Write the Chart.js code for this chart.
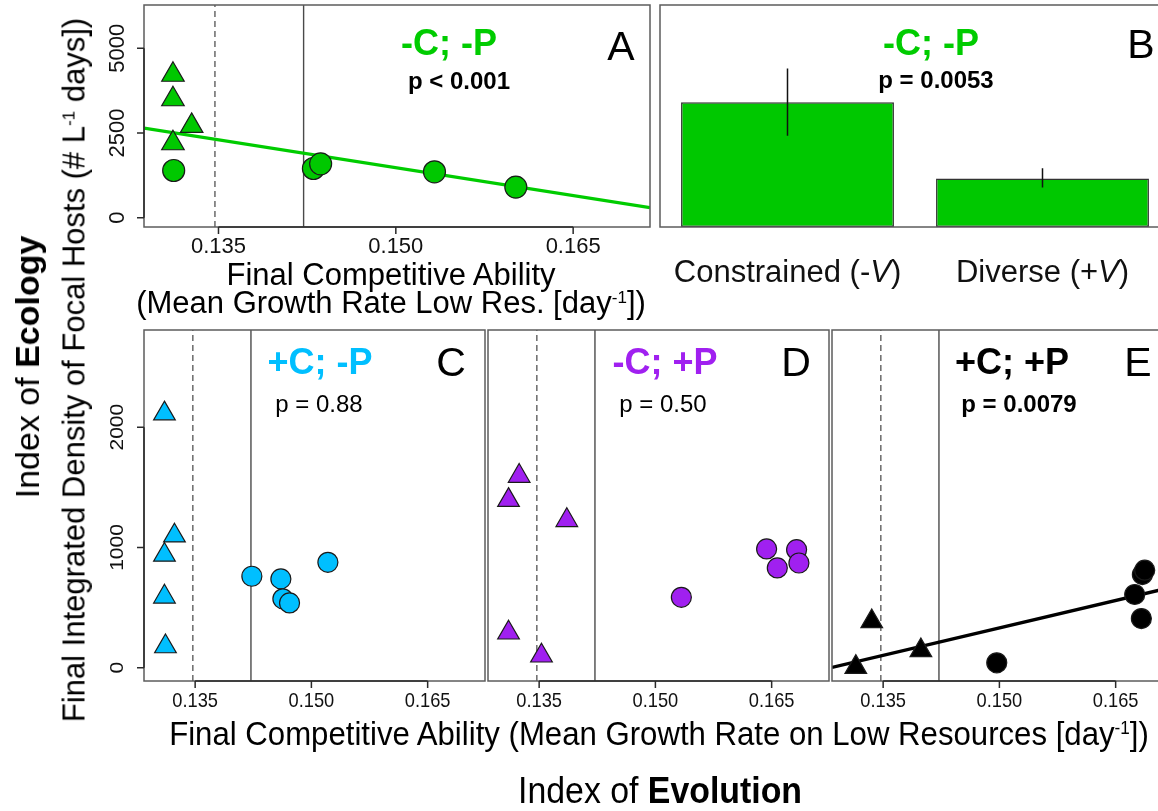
<!DOCTYPE html>
<html>
<head>
<meta charset="utf-8">
<script src="https://cdn.jsdelivr.net/npm/chart.js@4.4.1/dist/chart.umd.min.js"></script>
<style>
  html, body { margin: 0; padding: 0; background: #fff; overflow: hidden; width: 1158px; height: 811px; }
  #stage { position: relative; width: 1158px; height: 811px; overflow: hidden;
           font-family: "Liberation Sans", Arial, Helvetica, sans-serif; color: #000; }
  #stage canvas { position: absolute; left: 0; top: 0; }
  .t { position: absolute; white-space: nowrap; line-height: 1; transform: translate(-50%, -50%); }
  .b { font-weight: bold; }
  .rot { transform: translate(-50%, -50%) rotate(-90deg); }
  .sup { font-size: 0.55em; position: relative; top: -0.6em; }
</style>
</head>
<body>
<div id="stage">
  <canvas id="cA" width="1200" height="811"></canvas>
  <canvas id="cB" width="1200" height="811"></canvas>
  <canvas id="cC" width="1200" height="811"></canvas>
  <canvas id="cD" width="1200" height="811"></canvas>
  <canvas id="cE" width="1200" height="811"></canvas>

  <!-- panel annotations -->
  <div class="t b" style="left:449px;top:43px;font-size:36px;color:#00CC00">-C; -P</div>
  <div class="t b" style="left:459px;top:81px;font-size:24px">p &lt; 0.001</div>
  <div class="t" style="left:621px;top:46px;font-size:41px">A</div>

  <div class="t b" style="left:931px;top:43px;font-size:36px;color:#00CC00">-C; -P</div>
  <div class="t b" style="left:936px;top:80px;font-size:24px">p = 0.0053</div>
  <div class="t" style="left:1141px;top:44px;font-size:41px">B</div>

  <div class="t" style="left:391px;top:274px;font-size:31px">Final Competitive Ability</div>
  <div class="t" style="left:391px;top:302px;font-size:31px">(Mean Growth Rate Low Res. [day<span class="sup">-1</span>])</div>

  <div class="t b" style="left:320px;top:362px;font-size:36px;color:#00BFFF">+C; -P</div>
  <div class="t" style="left:319px;top:404px;font-size:24px">p = 0.88</div>
  <div class="t" style="left:451px;top:362px;font-size:41px">C</div>

  <div class="t b" style="left:665px;top:362px;font-size:36px;color:#A020F0">-C; +P</div>
  <div class="t" style="left:663px;top:404px;font-size:24px">p = 0.50</div>
  <div class="t" style="left:796px;top:362px;font-size:41px">D</div>

  <div class="t b" style="left:1012px;top:362px;font-size:36px;color:#000">+C; +P</div>
  <div class="t b" style="left:1019px;top:404px;font-size:24px">p = 0.0079</div>
  <div class="t" style="left:1138px;top:362px;font-size:41px">E</div>

  <!-- shared axis titles -->
  <div class="t" style="left:659px;top:733px;font-size:33px;transform:translate(-50%,-50%) scaleX(0.944)">Final Competitive Ability (Mean Growth Rate on Low Resources [day<span class="sup">-1</span>])</div>
  <div class="t" style="left:660px;top:791px;font-size:36px;transform:translate(-50%,-50%) scaleX(0.94)">Index of <b>Evolution</b></div>
  <div class="t rot" style="left:27px;top:367px;font-size:34px">Index of <b>Ecology</b></div>
  <div class="t rot" style="left:74px;top:370px;font-size:31px">Final Integrated Density of Focal Hosts (# L<span class="sup">-1</span> days])</div>
</div>

<script>
// ---------- data ----------
const xTicks = [0.135, 0.150, 0.165];
const yTicksTop = [0, 2500, 5000];
const yTicksLower = [0, 1000, 2000];

// ancestral reference values of competitive ability
const dashedRef = 0.1347;
const solidRef = 0.1422;

// A: -C; -P
const aTriX = [0.13115, 0.13115, 0.13273, 0.13115];
const aTriY = [4216, 3493, 2709, 2196];
const aCirX = [0.13121, 0.14303, 0.14364, 0.15327, 0.16015];
const aCirY = [1392, 1451, 1588, 1353, 902];
const aFitX = [0.1287, 0.1715];
const aFitY = [2644, 295];

// B: group means with error bars
const bCategories = ['Constrained (-V)', 'Diverse (+V)'];
const bMeans = [3372, 1314];
const bErrLow = [2465, 1070];
const bErrHigh = [4287, 1586];

// C: +C; -P
const cTriX = [0.13104, 0.13233, 0.13104, 0.13104, 0.13117];
const cTriY = [2113, 1098, 938, 590, 177];
const cCirX = [0.14232, 0.14606, 0.14632, 0.14718, 0.15213];
const cCirY = [761, 739, 573, 539, 877];

// D: -C; +P
const dTriX = [0.13242, 0.13105, 0.13857, 0.13105, 0.13530];
const dTriY = [1594, 1394, 1226, 291, 100];
const dCirX = [0.15335, 0.16435, 0.16573, 0.16822, 0.16852];
const dCirY = [586, 988, 830, 982, 871];

// E: +C; +P
const eTriX = [0.13147, 0.13353, 0.13987];
const eTriY = [5, 385, 144];
const eCirX = [0.14966, 0.16746, 0.16845, 0.16875, 0.16832];
const eCirY = [41, 609, 775, 811, 409];
const eFitX = [0.1284, 0.1724];
const eFitY = [3, 672];

// ---------- drawing ----------
const FONT = '"Liberation Sans", Arial, Helvetica, sans-serif';
const CW = 1200, CH = 811;

function drawRich(ctx, label, cx, cy, size) {
  const parts = label.split(/(V)(?=\))/).filter(Boolean).map(t => ({ t, it: t === 'V' }));
  let w = 0;
  parts.forEach(p => {
    ctx.font = (p.it ? 'italic ' : '') + size + 'px ' + FONT;
    p.w = ctx.measureText(p.t).width;
    w += p.w;
  });
  let x = cx - w / 2;
  ctx.textAlign = 'left';
  parts.forEach(p => {
    ctx.font = (p.it ? 'italic ' : '') + size + 'px ' + FONT;
    ctx.fillText(p.t, x, cy);
    x += p.w;
  });
  ctx.textAlign = 'center';
}

// box, axis segments, ticks and tick labels in the style of base R graphics
const rFrame = {
  id: 'rframe',
  afterDraw(chart, args, o) {
    const ctx = chart.ctx, a = chart.chartArea;
    ctx.save();
    ctx.setLineDash([]);
    ctx.strokeStyle = '#5c5c5c';
    ctx.lineWidth = 1.5;
    ctx.strokeRect(a.left, a.top, a.right - a.left, a.bottom - a.top);
    ctx.fillStyle = '#111';
    ctx.textAlign = 'center';
    ctx.textBaseline = 'middle';
    if (o.xTicks) {
      const s = chart.scales.x;
      const px = o.xTicks.map(v => s.getPixelForValue(v));
      ctx.strokeStyle = '#2a2a2a';
      ctx.lineWidth = 1.5;
      ctx.beginPath();
      ctx.moveTo(px[0], a.bottom);
      ctx.lineTo(px[px.length - 1], a.bottom);
      px.forEach(p => { ctx.moveTo(p, a.bottom); ctx.lineTo(p, a.bottom + o.tick); });
      ctx.stroke();
      ctx.font = o.size + 'px ' + FONT;
      px.forEach((p, i) => {
        ctx.save();
        ctx.translate(p, a.bottom + o.xGap);
        ctx.scale(o.squeeze, 1);
        ctx.fillText(o.xTicks[i].toFixed(3), 0, 0);
        ctx.restore();
      });
    }
    if (o.yTicks) {
      const s = chart.scales.y;
      const py = o.yTicks.map(v => s.getPixelForValue(v));
      ctx.strokeStyle = '#2a2a2a';
      ctx.lineWidth = 1.5;
      ctx.beginPath();
      ctx.moveTo(a.left, py[0]);
      ctx.lineTo(a.left, py[py.length - 1]);
      py.forEach(p => { ctx.moveTo(a.left, p); ctx.lineTo(a.left - o.tick, p); });
      ctx.stroke();
      ctx.font = o.size + 'px ' + FONT;
      py.forEach((p, i) => {
        ctx.save();
        ctx.translate(a.left - o.yGap, p);
        ctx.scale(o.squeeze, 1);
        ctx.rotate(-Math.PI / 2);
        ctx.fillText(String(o.yTicks[i]), 0, 0);
        ctx.restore();
      });
    }
    if (o.categories) {
      const s = chart.scales.x;
      ctx.fillStyle = '#111';
      o.categories.forEach((lab, i) => drawRich(ctx, lab, s.getPixelForValue(i), a.bottom + o.xGap, o.size));
    }
    ctx.restore();
  }
};
Chart.register(rFrame);

function pts(xs, ys) { return xs.map((x, i) => ({ x, y: ys[i] })); }

function baseOptions(box) {
  return {
    responsive: false,
    animation: false,
    devicePixelRatio: 1,
    events: [],
    layout: { autoPadding: false, padding: { left: box.l, top: box.t, right: CW - box.r, bottom: CH - box.b } },
    plugins: { legend: { display: false }, tooltip: { enabled: false } }
  };
}

function scatterPanel(id, box, xr, yr, marks, fit, frame) {
  const datasets = [
    { data: [{ x: dashedRef, y: yr[0] }, { x: dashedRef, y: yr[1] }], showLine: true,
      borderColor: '#6a6a6a', borderWidth: 1.5, borderDash: [6, 4], pointRadius: 0, order: 5 },
    { data: [{ x: solidRef, y: yr[0] }, { x: solidRef, y: yr[1] }], showLine: true,
      borderColor: '#4a4a4a', borderWidth: 1.4, pointRadius: 0, order: 5 }
  ];
  if (fit) {
    datasets.push({ data: pts(fit.x, fit.y), showLine: true, borderColor: fit.color,
      borderWidth: 3.3, pointRadius: 0, order: 3 });
  }
  datasets.push({ data: pts(marks.triX, marks.triY), pointStyle: 'triangle', pointRadius: marks.tr,
    pointBackgroundColor: marks.fill, pointBorderColor: '#1a1a1a', pointBorderWidth: 1.2,
    showLine: false, clip: false, order: 1 });
  datasets.push({ data: pts(marks.cirX, marks.cirY), pointStyle: 'circle', pointRadius: marks.cr,
    pointBackgroundColor: marks.fill, pointBorderColor: '#1a1a1a', pointBorderWidth: 1.2,
    showLine: false, clip: false, order: 1 });
  const options = baseOptions(box);
  options.scales = {
    x: { type: 'linear', min: xr[0], max: xr[1], display: false },
    y: { type: 'linear', min: yr[0], max: yr[1], display: false }
  };
  options.plugins.rframe = frame;
  return new Chart(document.getElementById(id), { type: 'scatter', data: { datasets }, options });
}

const xRangeTop = [0.1287, 0.1715];
const xRangeLower = [0.1284, 0.1724];
const yRangeTop = [-275, 6274];
const yRangeLower = [-110, 2808];

scatterPanel('cA', { l: 144, t: 5, r: 650, b: 227 }, xRangeTop, yRangeTop,
  { triX: aTriX, triY: aTriY, cirX: aCirX, cirY: aCirY, fill: '#00C800', tr: 13, cr: 11 },
  { x: aFitX, y: aFitY, color: '#00CC00' },
  { xTicks: xTicks, yTicks: yTicksTop, tick: 7, size: 22, squeeze: 1, xGap: 20, yGap: 26 });

scatterPanel('cC', { l: 144, t: 330, r: 485, b: 681 }, xRangeLower, yRangeLower,
  { triX: cTriX, triY: cTriY, cirX: cCirX, cirY: cCirY, fill: '#00BFFF', tr: 12.5, cr: 10 },
  null,
  { xTicks: xTicks, yTicks: yTicksLower, tick: 7, size: 21, squeeze: 0.87, xGap: 20, yGap: 26 });

scatterPanel('cD', { l: 488, t: 330, r: 829, b: 681 }, xRangeLower, yRangeLower,
  { triX: dTriX, triY: dTriY, cirX: dCirX, cirY: dCirY, fill: '#A020F0', tr: 12.5, cr: 10 },
  null,
  { xTicks: xTicks, tick: 7, size: 21, squeeze: 0.87, xGap: 20, yGap: 26 });

scatterPanel('cE', { l: 832, t: 330, r: 1173, b: 681 }, xRangeLower, yRangeLower,
  { triX: eTriX, triY: eTriY, cirX: eCirX, cirY: eCirY, fill: '#000000', tr: 12.5, cr: 10 },
  { x: eFitX, y: eFitY, color: '#000000' },
  { xTicks: xTicks, tick: 7, size: 21, squeeze: 0.87, xGap: 20, yGap: 26 });

// B: bar chart of group means
(function () {
  const box = { l: 660, t: 5, r: 1170, b: 227 };
  const datasets = [
    { type: 'bar', data: bMeans, backgroundColor: '#00C800', borderColor: '#333333', borderWidth: 1.5,
      borderSkipped: false, barPercentage: 0.835, categoryPercentage: 1.0, order: 3 }
  ];
  bCategories.forEach((c, i) => {
    datasets.push({ type: 'line', data: [{ x: c, y: bErrLow[i] }, { x: c, y: bErrHigh[i] }],
      borderColor: '#111111', borderWidth: 1.5, pointRadius: 0, order: 1 });
  });
  const options = baseOptions(box);
  options.scales = {
    x: { type: 'category', labels: bCategories, offset: true, display: false },
    y: { type: 'linear', min: 0, max: 6000, display: false }
  };
  options.plugins.rframe = { categories: bCategories, size: 31, xGap: 46 };
  new Chart(document.getElementById('cB'), { type: 'bar', data: { labels: bCategories, datasets }, options });
})();
</script>
</body>
</html>
